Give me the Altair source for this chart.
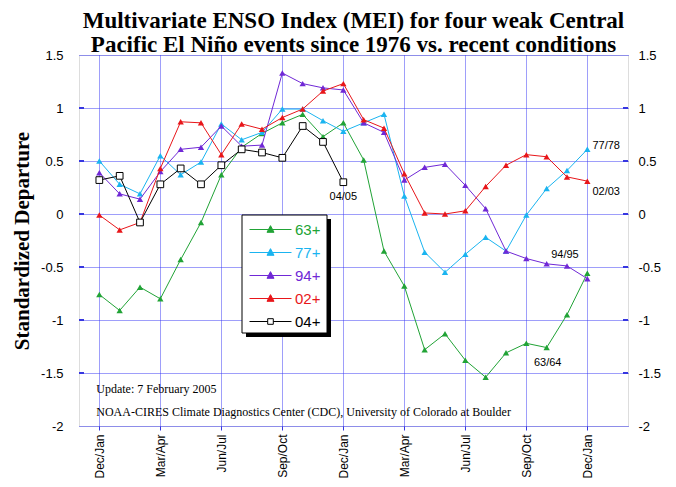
import altair as alt
import pandas as pd

# ---------------- data ----------------
seasons = ["Dec/Jan", "Jan/Feb", "Feb/Mar", "Mar/Apr", "Apr/May", "May/Jun",
           "Jun/Jul", "Jul/Aug", "Aug/Sep", "Sep/Oct", "Oct/Nov", "Nov/Dec"]

series_names = ["63+", "77+", "94+", "02+", "04+"]
series_colors = ["#21a336", "#1ab4f0", "#7028d6", "#e8161a", "#000000"]
series_fills = ["#21a336", "#1ab4f0", "#7028d6", "#e8161a", "#ffffff"]

mei_63 = [-0.76, -0.91, -0.69, -0.80, -0.43, -0.08, 0.37, 0.63, 0.76, 0.86, 0.94, 0.73, 0.86,
          0.51, -0.35, -0.68, -1.28, -1.13, -1.38, -1.54, -1.31, -1.22, -1.26, -0.95, -0.56]
mei_77 = [0.50, 0.28, 0.19, 0.55, 0.37, 0.49, 0.85, 0.70, 0.77, 0.99, 0.99, 0.88, 0.78,
          0.86, 0.94, 0.17, -0.36, -0.55, -0.38, -0.22, -0.35, -0.01, 0.24, 0.41, 0.61]
mei_94 = [0.39, 0.19, 0.14, 0.40, 0.61, 0.63, 0.83, 0.64, 0.65, 1.33, 1.23, 1.19, 1.17,
          0.86, 0.77, 0.32, 0.44, 0.47, 0.27, 0.05, -0.35, -0.42, -0.47, -0.49, -0.61]
mei_02 = [-0.01, -0.15, -0.08, 0.43, 0.87, 0.86, 0.56, 0.85, 0.80, 0.91, 0.99, 1.16, 1.23,
          0.89, 0.81, 0.38, 0.01, 0.00, 0.03, 0.26, 0.46, 0.56, 0.54, 0.35, 0.31]
mei_04 = [0.32, 0.36, -0.08, 0.28, 0.43, 0.28, 0.46, 0.61, 0.58, 0.53, 0.83, 0.68, 0.30]

x_tick_values = [0, 3, 6, 9, 12, 15, 18, 21, 24]
y_tick_values = [-2, -1.5, -1, -0.5, 0, 0.5, 1, 1.5]

ann_text = ["77/78", "02/03", "94/95", "63/64", "04/05"]
ann_idx = [24.25, 24.25, 22.9, 22.05, 12.0]
ann_val = [0.64, 0.21, -0.39, -1.41, 0.16]
ann_align = ["left", "left", "center", "center", "center"]

notes = ["Update: 7 February 2005",
         "NOAA-CIRES Climate Diagnostics Center (CDC), University of Colorado at Boulder"]
notes_idx = [-0.15, -0.15]
notes_val = [-1.65, -1.87]

title_lines = ["Multivariate ENSO Index (MEI) for four weak Central",
               "Pacific El Niño events since 1976 vs. recent conditions"]

# ---------------- tables ----------------
rows = []
for name, vals in zip(series_names, [mei_63, mei_77, mei_94, mei_02, mei_04]):
    for i, v in enumerate(vals):
        rows.append({"series": name, "idx": i, "season": seasons[i % 12], "mei": v})
df = pd.DataFrame(rows)
ann_df = pd.DataFrame({"text": ann_text, "idx": ann_idx, "mei": ann_val, "align": ann_align})
notes_df = pd.DataFrame({"text": notes, "idx": notes_idx, "mei": notes_val})
yticks_df = pd.DataFrame({"mei": y_tick_values[1:-1]})

# ---------------- styles ----------------
GRID = "#3c3cf5"
FRAME = "#3636e0"
SANS = "Liberation Sans"
SERIF = "Liberation Serif"

x_scale = alt.Scale(domain=[-1, 26], nice=False, zero=False)
y_scale = alt.Scale(domain=[-2, 1.5], nice=False, zero=False)
color_scale = alt.Scale(domain=series_names, range=series_colors)

season_js = "[" + ",".join("'" + s + "'" for s in seasons) + "]"
x_axis = alt.Axis(values=x_tick_values, labelExpr=season_js + "[datum.value % 12]",
                  labelAngle=270, labelAlign="right", labelBaseline="middle",
                  labelFont=SANS, labelFontSize=12, labelColor="black", labelPadding=4,
                  tickSize=4, tickColor=FRAME, domain=False,
                  grid=True, gridColor=GRID, gridDash=[1, 1], gridWidth=1, title=None)
y_axis_left = alt.Axis(values=y_tick_values, labelExpr="datum.value + ''", orient="left",
                       labelFont=SANS, labelFontSize=13, labelColor="black", labelPadding=16,
                       tickSize=0, domain=False, grid=True, gridColor=GRID, gridDash=[1, 1],
                       gridWidth=1, title="Standardized Departure", titleFont=SERIF,
                       titleFontSize=21, titleFontWeight="bold", titleColor="black",
                       titleAngle=270, titleX=-57, titleY=185.5, titleAlign="center",
                       titleBaseline="middle")
y_axis_right = alt.Axis(values=y_tick_values, labelExpr="datum.value + ''", orient="right",
                        labelFont=SANS, labelFontSize=13, labelColor="black", labelPadding=10,
                        tickSize=0, domain=False, grid=False, title=None)

X = alt.X("idx:Q", scale=x_scale, axis=x_axis)
Y0 = alt.Y("mei:Q", scale=y_scale, axis=None)

# short inward ticks on both side frames
ticks_left = alt.Chart(yticks_df).mark_rule(color=FRAME, strokeWidth=2).encode(
    x=alt.value(0), x2=alt.value(5), y=Y0)
ticks_right = alt.Chart(yticks_df).mark_rule(color=FRAME, strokeWidth=2).encode(
    x=alt.value(544), x2=alt.value(549), y=Y0)

one = pd.DataFrame({"k": [0]})
# legend frame + drop shadow (decoration)
shadow = alt.Chart(one).mark_rect(color="black").encode(
    x=alt.value(167), x2=alt.value(252), y=alt.value(164), y2=alt.value(282))
box = alt.Chart(one).mark_rect(fill="white", stroke="black", strokeWidth=1).encode(
    x=alt.value(163), x2=alt.value(248), y=alt.value(160), y2=alt.value(278))

layers = []
for k, name in enumerate(series_names):
    base = alt.Chart(df).transform_filter(alt.datum.series == name)
    Y = alt.Y("mei:Q", scale=y_scale, axis=y_axis_left if k == 0 else None)
    line = base.mark_line(strokeWidth=1).encode(
        x=X, y=Y, color=alt.Color("series:N", scale=color_scale, legend=None))
    if name == "04+":
        pts = base.mark_point(shape="square", filled=True, fill="white", stroke="black",
                              strokeWidth=1, size=45, opacity=1).encode(x=X, y=Y0)
    else:
        pts = base.mark_point(shape="triangle-up", filled=True, size=40, opacity=1).encode(
            x=X, y=Y0, color=alt.Color("series:N", scale=color_scale, legend=None))
    layers += [line, pts]

# legend: one single-entry legend per series, stacked inside the box
tri = "M-1,0H5M2,-0.55L2.5,0.4L1.5,0.4Z"
sq = "M-1,0H1.6M2.4,0H5M1.6,-0.4H2.4V0.4H1.6Z"
legend_paths = [tri, tri, tri, tri, sq]
legend_layers = []
for k, name in enumerate(series_names):
    leg = alt.Legend(title=None, orient="none", legendX=163, legendY=160 + 23 * k,
                     padding=7, symbolSize=196, symbolStrokeWidth=1, symbolOffset=0,
                     labelOffset=31, labelFont=SANS, labelFontSize=15,
                     labelColor=series_colors[k], symbolOpacity=1)
    ll = alt.Chart(df).transform_filter(alt.datum.series == name).mark_point(
        filled=True, opacity=0, strokeWidth=1).encode(
        x=X, y=Y0,
        shape=alt.Shape("series:N", scale=alt.Scale(domain=[name], range=[legend_paths[k]]), legend=leg),
        stroke=alt.Stroke("series:N", scale=alt.Scale(domain=[name], range=[series_colors[k]]), legend=leg),
        fill=alt.Fill("series:N", scale=alt.Scale(domain=[name], range=[series_fills[k]]), legend=leg),
    )
    legend_layers.append(ll)

ann_left = alt.Chart(ann_df).transform_filter(alt.datum.align == "left").mark_text(
    align="left", baseline="middle", font=SANS, fontSize=11, color="black").encode(
    x=X, y=alt.Y("mei:Q", scale=y_scale, axis=y_axis_right), text="text:N")
ann_center = alt.Chart(ann_df).transform_filter(alt.datum.align == "center").mark_text(
    align="center", baseline="middle", font=SANS, fontSize=11, color="black").encode(
    x=X, y=Y0, text="text:N")
notes_layer = alt.Chart(notes_df).mark_text(
    align="left", baseline="middle", font=SERIF, fontSize=12, color="black").encode(
    x=X, y=Y0, text="text:N")

chart = alt.layer(*layers, ticks_left, ticks_right, shadow, box, *legend_layers,
                  ann_left, ann_center, notes_layer).resolve_axis(
    y="independent").resolve_scale(
    shape="independent", stroke="independent", fill="independent").resolve_legend(
    shape="independent", stroke="independent", fill="independent").properties(
    width=549, height=371,
    padding={"left": 71, "top": 47, "right": 40, "bottom": 53},
    autosize=alt.AutoSizeParams(type="none"),
    title=alt.TitleParams(text=title_lines, font=SERIF, fontSize=23, fontWeight="bold",
                          color="black", anchor="middle", lineHeight=24, offset=-8),
).configure_view(stroke=FRAME, strokeWidth=2).configure(background="white")

chart.save("out.html", embed_options={"renderer": "svg", "actions": False})
